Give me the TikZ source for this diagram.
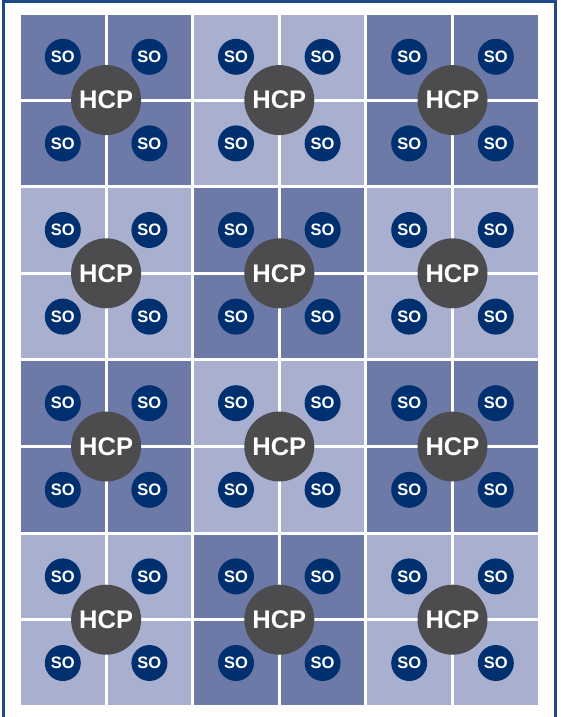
\documentclass[tikz,border=0pt]{standalone}
\usepackage{fontspec}
\setmainfont{Liberation Sans}
\definecolor{celldark}{HTML}{6D7AA8}
\definecolor{celllight}{HTML}{A9B0CF}
\definecolor{sonavy}{HTML}{00306F}
\definecolor{hcpgrey}{HTML}{4C4C4E}
\definecolor{framenavy}{HTML}{1F4A8A}

\begin{document}
\begin{tikzpicture}[
  x=1pt, y=-1pt,
  cell/.style={rectangle, draw=none, minimum size=83.6pt, inner sep=0pt, outer sep=0pt},
  hcp/.style={circle, fill=hcpgrey, text=white, minimum size=70pt, inner sep=0pt,
              font=\fontsize{25.5}{26}\selectfont\bfseries},
  so/.style={circle, fill=sonavy, text=white, minimum size=36pt, inner sep=0pt,
             font=\fontsize{16.5}{17}\selectfont\bfseries}
]
\useasboundingbox (0,0) rectangle (561,717);
\fill[white] (0,0) rectangle (561,717);
% frame, open at the bottom
\draw[framenavy, line width=2.4pt] (3.5,730) -- (3.5,1.5) -- (555.5,1.5) -- (555.5,730);

% 3 x 4 blocks, each of 2 x 2 cells
\foreach \i in {0,1,2}
  \foreach \j in {0,...,3} {
    \pgfmathsetmacro\bx{21+\i*173.2}
    \pgfmathsetmacro\by{15+\j*173.2}
    \pgfmathtruncatemacro\parity{mod(\i+\j,2)}
    \ifnum\parity=0 \def\cellfill{celldark}\else\def\cellfill{celllight}\fi
    \foreach \a in {0,1}
      \foreach \b in {0,1} {
        \node[cell, fill=\cellfill] (cell-\i-\j-\a\b) at (\bx+41.8+\a*86.6, \by+41.8+\b*86.6) {};
        \node[so] (so-\i-\j-\a\b) at (cell-\i-\j-\a\b) {SO};
      }
    \node[hcp] (hcp-\i-\j) at (\bx+85.1, \by+85.1) {HCP};
  }
\end{tikzpicture}
\end{document}
